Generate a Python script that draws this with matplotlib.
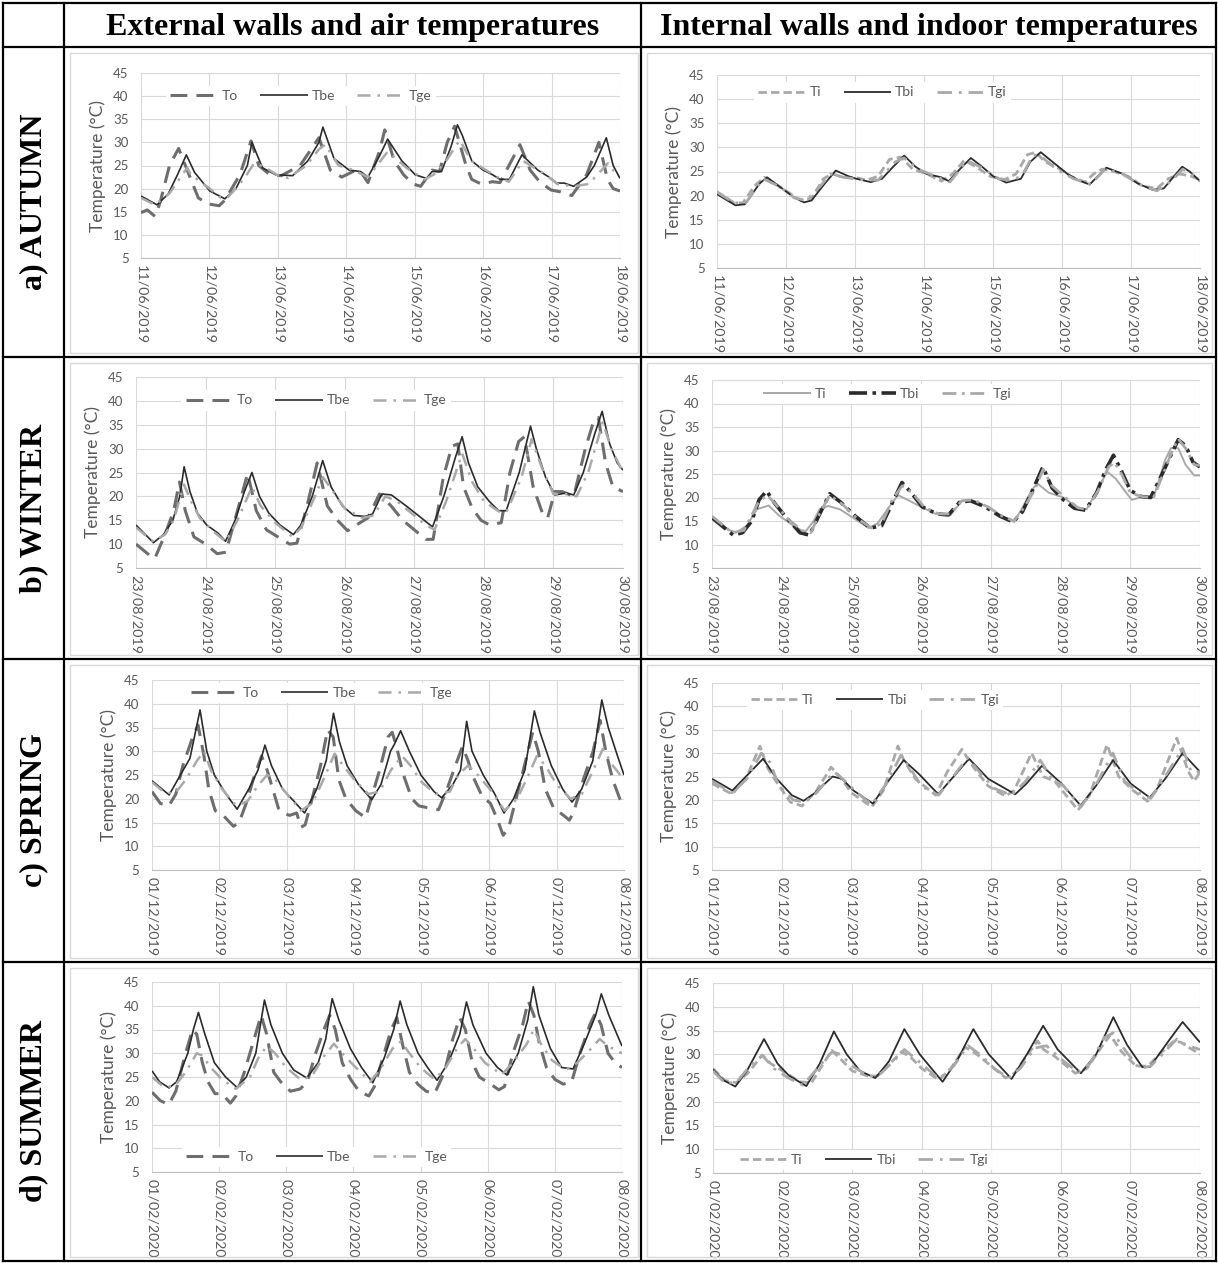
import matplotlib.pyplot as plt
import pandas as pd
from matplotlib.lines import Line2D
from matplotlib.patches import Rectangle

plt.rcParams['font.family'] = ['Lato', 'DejaVu Sans']

# ---------------- data: (hour from start, temperature in degC) ----------------
start_dates = ['2019-06-11', '2019-08-23', '2019-12-01', '2020-02-01']
row_labels = ['a) AUTUMN', 'b) WINTER', 'c) SPRING', 'd) SUMMER']
col_titles = ['External walls and air temperatures', 'Internal walls and indoor temperatures']
ext_names = ['To', 'Tbe', 'Tge']
int_names = ['Ti', 'Tbi', 'Tgi']

# autumn - external
aut_To = [(0, 14.8), (2.2, 15.4), (4.9, 14), (6.7, 17), (10, 25), (13.2, 28.7), (17.5, 22), (20.1, 18),
          (23.4, 16.7), (27.4, 16.3), (29.4, 17.5), (34.7, 23), (38.6, 30.3), (41.3, 25), (45.2, 23),
          (49.2, 22.8), (55.8, 25), (59.1, 28), (62.4, 31), (66.4, 24), (70.4, 22.5), (74.4, 23.7),
          (77, 23.7), (79.6, 21.3), (83.6, 28), (85.5, 32.7), (88.8, 26), (92.1, 23), (95.4, 21),
          (98.1, 20.5), (102.1, 24), (104.7, 23.7), (107.4, 30), (110, 33.5), (114, 25), (116, 22),
          (119.3, 21), (123.3, 21.5), (125.9, 21.3), (132.9, 29.5), (136.5, 24), (139.8, 21.5),
          (143.8, 19.7), (147.1, 19.3), (151.1, 18.5), (156.3, 23), (160.6, 30), (163.6, 22),
          (165.6, 20), (168, 19.5)]
aut_Tbe = [(0, 18.4), (5.6, 16.5), (9.5, 18.8), (12.8, 23), (15.9, 27.3), (18.8, 23.5), (24.1, 19.5),
           (29.4, 17.8), (33.3, 20), (37.3, 25), (38.9, 30), (42.6, 24.5), (47.2, 23), (53.2, 22.8),
           (58.5, 26), (62.4, 30), (63.8, 33.3), (67.7, 26.5), (73, 24), (77, 23.7), (79.6, 22.5),
           (83.6, 27), (86.5, 30.7), (91.5, 26), (96.2, 23), (100.1, 22.2), (102.1, 23.7),
           (105.4, 23.7), (108.7, 29), (111, 33.8), (112.7, 31.5), (116, 26), (120, 24), (123.3, 23),
           (125.9, 22), (129.2, 22), (133.6, 27.3), (139.2, 24), (143.1, 22.5), (145.8, 21.2),
           (148.4, 21.2), (151.7, 20.5), (156.3, 22.5), (159, 25), (163.2, 31), (165.6, 25), (168, 22.2)]
aut_Tge = [(0, 18), (4.9, 16.5), (10, 19), (16.2, 24.5), (17.5, 23), (24.1, 20), (28, 18), (30, 17.8),
           (36, 22), (39.7, 25.5), (43, 24.8), (47.6, 23), (51.6, 22.3), (58, 25), (62.4, 28.5),
           (64.6, 29.5), (69.3, 25), (74.6, 24), (79.6, 22.5), (86.5, 28), (93.1, 24.5), (99.5, 22),
           (103.4, 23.3), (107, 26), (111.8, 30.5), (115.8, 26), (121, 24), (125, 22.5), (129, 21.5),
           (134, 26), (142, 23), (146, 21), (151.7, 20.5), (157, 21), (163.8, 25.5), (165.6, 24), (168, 23)]
# autumn - internal
aut_Ti = [(0, 20.8), (6, 18.5), (9, 18.5), (13, 22), (16.5, 23.8), (20, 22.5), (24, 21), (29, 19),
          (33, 19.5), (37, 23.5), (40, 24.5), (44, 23.8), (48, 23.8), (52, 23.2), (56, 24), (60, 27.5),
          (64, 28), (68, 25.5), (73, 24.5), (78, 23), (82, 24.5), (86, 27.3), (90, 26), (95, 24),
          (100, 23.3), (104, 24.5), (108, 28.5), (111, 29), (114, 27), (118, 26), (123, 24), (128, 22.8),
          (131, 24.5), (134, 25.5), (138, 25), (143, 24), (148, 22), (153, 21.5), (157, 23.5),
          (161, 24.5), (165, 24), (168, 23.3)]
aut_Tbi = [(0, 20.3), (6.4, 18), (9.7, 18.2), (14.8, 22.5), (17.4, 23.8), (22.6, 21.5), (26.4, 19.8),
           (30.3, 18.6), (32.9, 19), (36.8, 22), (41.3, 25.2), (45.8, 24), (48.4, 23.5), (53.5, 22.8),
           (57.4, 23.5), (61.3, 26), (65.1, 28.3), (69, 26), (72.9, 24.5), (78, 23.8), (80.6, 23),
           (84.5, 25.5), (88.3, 27.8), (92.2, 26), (96.1, 24), (100.6, 22.7), (105.7, 23.5), (109, 27),
           (112.6, 29), (116.7, 27), (121.9, 24.5), (125.7, 23.2), (129.6, 22.3), (135.4, 25.8),
           (141.2, 24.5), (146.4, 22.5), (151.5, 21.2), (155.4, 21.5), (161.8, 26), (164.4, 25), (168, 23)]
aut_Tgi = [(0, 20.7), (6, 18.5), (10, 18.5), (16, 23.5), (22, 21.8), (27, 19.5), (31, 19), (36, 22),
           (39.5, 24.5), (44, 23.8), (50, 23.3), (56, 23.2), (62, 27), (65, 27.8), (70, 25.5), (76, 24),
           (81, 22.8), (87, 27.3), (92, 25.8), (98, 23.5), (102, 23.2), (106, 24), (110, 28.5), (113, 28),
           (118, 25.5), (124, 23.5), (130, 22.3), (135, 25.5), (141, 24.5), (147, 22.3), (153, 21),
           (158, 23), (162, 25.5), (166, 24), (168, 23)]

# winter - external
win_To = [(0, 10), (5, 7.5), (6.5, 7), (10, 12), (13, 17), (15, 23), (17, 17), (20, 11.5), (24, 10),
          (28, 8), (31, 8.3), (35, 17), (38.5, 24.8), (41.5, 17), (45, 13), (49, 11.5), (53, 10),
          (55.5, 10.2), (59, 18), (62.5, 27), (66, 18), (69.5, 15), (73, 12.8), (76, 14), (80, 15.5),
          (84, 20.5), (88, 18), (92, 15), (96, 13), (100, 11), (102.5, 11), (106, 24), (109, 30.5),
          (111, 31), (113, 22), (116, 17.5), (119, 15), (122, 14), (126, 14.5), (129, 25), (132, 31.5),
          (134, 32.5), (137, 22), (140.5, 16), (142, 15.5), (144.5, 21), (147, 21), (151, 20),
          (155, 30), (158, 36), (159.5, 36.5), (162, 27), (164.5, 22), (168, 21)]
win_Tbe = [(0, 14), (6, 10.3), (9.5, 12), (12.7, 15), (15.1, 20), (16.6, 26.2), (18.6, 21), (21.2, 16.5),
           (24.4, 14), (28.3, 12.3), (30.9, 10.6), (34.2, 15), (37.4, 21), (40, 25), (42.6, 20),
           (45.8, 16.5), (49.7, 14), (54.3, 12), (56.9, 14), (60.8, 20), (64.4, 27.5), (67.3, 22),
           (71.2, 18), (75.1, 16), (79, 15.8), (81.6, 16.3), (84.8, 20.5), (88.1, 20.3), (93.2, 18),
           (98.4, 15.5), (102.3, 13.6), (106.2, 20), (110.1, 28), (112.5, 32.5), (114.7, 27), (117.9, 22),
           (121.8, 19), (125.1, 17), (127.7, 17), (132.2, 25), (136.1, 34.7), (138.1, 30), (141.3, 24),
           (144.5, 20.3), (148.4, 20.7), (151, 20.3), (154.3, 25), (158.2, 33), (160.8, 37.8),
           (163.4, 31), (166, 27), (168, 25.5)]
win_Tge = [(0, 13.5), (6, 10.5), (10, 12), (13, 15), (16.5, 22.5), (19, 19), (22, 15.5), (27, 12.5),
           (31, 10.5), (35, 15), (40, 22), (43, 18), (48, 14.5), (54, 11.5), (57, 13.5), (61, 19),
           (64.5, 24), (68, 21), (72, 17.5), (78, 15.5), (82, 16), (86, 20), (90, 19), (95, 16.5),
           (100, 14), (103, 13), (107, 19), (112.5, 29), (116, 23), (120, 19), (126, 16.5), (128, 17),
           (133, 24), (136.5, 32), (140, 26), (144, 20.5), (148, 20.5), (152, 20), (156, 25),
           (161, 35.5), (164, 30), (168, 25)]
# winter - internal
win_Ti = [(0, 16), (6, 13), (8.5, 12.6), (12, 14), (15.5, 17.5), (19.5, 18.3), (23, 16.2), (28, 14),
          (32, 12.6), (35, 15), (37, 17.5), (40, 18.2), (44, 17.5), (49, 15.5), (54, 13.5), (57, 14.5),
          (61, 18), (64, 20.5), (68, 19.3), (72, 18), (77, 16.5), (82, 16.2), (86, 19.3), (90, 19.3),
          (95, 18), (100, 16), (104, 14.8), (107, 18), (110, 21.5), (112, 23), (116, 21), (121, 20),
          (126, 17.8), (129, 17.5), (133, 22), (136, 25.5), (139, 24), (142, 21.5), (144.5, 19.5),
          (149, 20.3), (152, 20), (156, 28), (158, 30.5), (160.5, 30.5), (163, 27), (166, 24.7), (168, 24.7)]
win_Tbi = [(0, 15.7), (7.3, 12), (10.5, 12.5), (13.7, 15), (16.2, 19.5), (18.8, 21.4), (21.3, 19),
           (25.2, 16), (30.3, 12.5), (33.5, 12), (36.7, 16), (40.5, 20.8), (44.3, 19), (49.4, 16),
           (54.5, 13.5), (58.4, 14), (62.2, 19), (65.4, 23.2), (68.6, 21), (72.4, 18), (77.5, 16.5),
           (81.4, 16.3), (85.2, 19), (89, 19.3), (94.1, 18), (99.2, 16), (103.7, 14.8), (106.9, 17),
           (110.7, 22), (113.9, 26.5), (117.1, 22), (121, 19.5), (124.8, 17.7), (128.6, 17.3),
           (132.4, 21), (135.6, 26), (138.2, 29), (140.7, 26), (144, 21.5), (147.8, 20.2), (151, 20),
           (154.2, 24), (158, 29), (160.5, 32.3), (163.1, 31), (165.6, 27.5), (168, 26.5)]
win_Tgi = [(0, 16), (7, 12.5), (11, 13), (16, 19), (19, 20.5), (22, 18.5), (26, 15.5), (31, 13),
           (34, 12.5), (37, 16.5), (40.5, 20.5), (45, 18.5), (50, 15.5), (55, 13.5), (58.5, 14.5),
           (62, 19.5), (65.5, 22.5), (69, 21), (73, 18), (78, 16.5), (82, 16.5), (86, 19.3), (90, 19.5),
           (95, 18), (100, 16), (104, 15), (107, 17.5), (111, 21.5), (114, 26), (117, 22.5), (122, 19.8),
           (126, 17.8), (129, 17.5), (133, 21.5), (136.5, 26.5), (138.5, 27.5), (141, 25), (144, 21),
           (148, 20.2), (152, 20), (155, 24.5), (158.5, 30), (160.5, 32.5), (163, 30.5), (166, 27),
           (168, 26.8)]

# spring - external
spr_To = [(0, 21.5), (3, 19), (6, 18.5), (8.5, 21), (11, 27), (14.5, 33), (16.4, 35.5), (18.5, 29),
          (20.2, 22), (22.5, 17.5), (25, 16.7), (29, 14.2), (31, 15), (33.5, 19), (36, 24), (39, 29),
          (41, 26), (42.5, 23), (45, 18), (46.5, 17), (49, 16.5), (51.5, 17), (53, 14), (54.5, 14.5),
          (57, 20), (60, 27), (62.5, 34.5), (64.5, 33), (66.5, 24), (69, 20), (72.5, 17.5), (76, 16),
          (78, 20), (81, 26), (84, 33), (85.5, 34), (87, 31), (89.5, 25), (92.5, 20), (95, 18.5),
          (99, 18), (102, 17.7), (105, 22), (108, 27), (110.5, 31), (112.5, 28), (114, 25), (117.5, 20.5),
          (120.5, 19), (123, 15.5), (125, 12.3), (127, 14), (130, 21), (133, 28), (135.5, 34),
          (137.5, 30), (140, 22), (143, 18), (146.5, 16.5), (148.5, 15.5), (150, 17), (153.5, 24),
          (157, 30), (159.5, 36.5), (161.5, 30), (164, 24), (166.5, 20), (168, 18.3)]
spr_Tbe = [(0, 23.8), (6.1, 20.8), (10.1, 25), (13.5, 28.5), (17.1, 38.7), (19.5, 30), (22.2, 25),
           (26.3, 21), (30.3, 17.8), (34.4, 22), (37.7, 26), (40.2, 31.3), (42.5, 27), (46.5, 22),
           (50.5, 19.5), (54.3, 17), (58.6, 22), (62, 28), (64.6, 38), (66.7, 32), (69.4, 27), (73.5, 23),
           (78.2, 19.8), (81.5, 23), (84.9, 30), (86.3, 31.5), (88.5, 34.3), (91.6, 30), (95.7, 25),
           (100.4, 21.5), (103.1, 20.2), (107.1, 23), (109.8, 26), (112, 36.3), (113.9, 30), (117.9, 25),
           (122, 21), (125.3, 17), (128.7, 20), (132.7, 26), (136.1, 38.5), (138.1, 34), (142.1, 27),
           (146.2, 22), (149.5, 19.3), (152.9, 22), (156.9, 28), (160.1, 40.8), (162.4, 35),
           (165.7, 29), (168, 25)]
spr_Tge = [(0, 23.5), (4, 21.5), (8, 21), (12, 24), (16, 28), (18.5, 30), (21, 26), (25, 22), (30, 18.5),
           (34, 19.5), (38, 23), (41, 25), (44, 24), (48, 21), (53, 17.5), (57, 19), (61, 24), (65, 29.5),
           (68, 27), (72, 24), (77, 21), (81, 21.5), (85, 26), (89, 29), (92, 27), (96, 23.5), (101, 21),
           (106, 21.5), (109, 25), (112.5, 27), (116, 25), (121, 21.5), (125.5, 17.5), (130, 20),
           (134, 25), (137, 29), (140, 27), (144, 23), (149, 20), (153, 21), (157, 26), (160.5, 30.5),
           (164, 27), (168, 24)]
# spring - internal
spr_Ti = [(0, 23.5), (7, 21.2), (12, 25), (16.5, 31.5), (19, 27), (22, 24), (27, 19.5), (31, 18.7),
          (36, 22), (41, 27), (44, 25), (48, 21.5), (55, 18.5), (59, 22), (64, 31.5), (66, 28.5),
          (70, 24.5), (77, 21), (81, 26), (86, 30.8), (90, 27), (95, 23), (101, 20.8), (104, 22),
          (110, 30), (114, 25), (118, 24), (126, 17.8), (130, 21), (136, 31.8), (140, 25), (145, 22),
          (150, 19.7), (153, 22), (160, 33.2), (164, 26), (166, 24), (168, 26)]
spr_Tbi = [(0, 24.5), (7, 22), (11.7, 25), (17.6, 28.8), (22.3, 24.5), (27.5, 21), (31.5, 19.8),
           (35.5, 21.5), (41.5, 25), (44.8, 24.5), (48.7, 22), (55.4, 19.2), (60.7, 24), (66, 28.5),
           (71.3, 25.5), (77.9, 21.2), (83.2, 25), (88.5, 28.8), (95.1, 24.5), (104.4, 21.2),
           (108.3, 23.5), (113.6, 27.3), (120.3, 23.5), (126.9, 18.8), (132.2, 23), (138.1, 28.5),
           (144.1, 23.5), (150.7, 20.5), (156, 24.5), (162, 30), (168, 26)]
spr_Tgi = [(0, 24), (7, 21.5), (12, 24.5), (17, 30), (20, 28), (23, 23), (28, 20), (32, 19.5), (36, 21.5),
           (42, 26), (45, 24.5), (50, 21.5), (55, 19), (60, 23.5), (65, 29.5), (68, 27), (72, 23), (78, 21),
           (83, 25), (88, 29), (92, 26), (97, 22.5), (103, 21), (108, 24), (113, 28.5), (117, 24.5),
           (121, 23), (127, 18.5), (132, 23), (138, 30), (142, 24), (147, 21.5), (151, 20.3), (156, 25),
           (162, 31), (165, 26), (168, 26)]

# summer - external
sum_To = [(0, 21.8), (3, 20), (6, 19.2), (8.5, 22), (12, 30), (14.5, 35), (16, 34), (18, 28), (20, 24),
          (22.5, 21.5), (25, 21.5), (28, 19.5), (30, 21), (33, 26), (36.5, 33), (39, 38), (41, 34),
          (43.5, 26), (46, 24), (49.5, 22), (53, 22.5), (55.5, 24), (58.5, 30), (61.5, 35), (63.5, 38),
          (65.5, 35), (68, 28), (71, 24.5), (74, 22), (77.5, 21), (79.5, 23), (82.5, 29), (85.5, 35),
          (87.5, 37.5), (89.5, 32), (92, 26), (95, 23.5), (98, 22), (101, 21.5), (104.5, 26), (107.5, 33),
          (110, 37.5), (112, 35), (114.5, 28), (117, 25), (121, 23.5), (124, 22.3), (126, 23), (129, 30),
          (132.5, 36), (134.5, 41), (136.5, 38), (138.5, 32), (141, 27), (144, 24.5), (147, 23.5),
          (150, 24), (153, 30), (156.5, 36), (158.5, 38.5), (160.5, 36), (163, 30), (165.5, 28), (168, 27)]
sum_Tbe = [(0, 26.3), (2.7, 24), (6.1, 22.7), (8.8, 24), (12.8, 30), (14.8, 35), (16.6, 38.6), (18.9, 34),
           (22.3, 28), (26.3, 25), (30.4, 22.8), (33.7, 25), (37.1, 30), (40.2, 41.2), (42.5, 36),
           (46.6, 30), (50.6, 26.5), (55.3, 24.8), (59.4, 28), (62.1, 33), (64.4, 41.5), (66.8, 37),
           (70.9, 31), (74.9, 27), (78.9, 23.8), (83, 29), (86.4, 35), (88.7, 41), (91.1, 36), (95.1, 30),
           (98.5, 27), (101.9, 24.3), (105.9, 28), (110, 34), (112.4, 40.8), (114.7, 36), (119.4, 30),
           (123.5, 27), (126.9, 25.4), (130.9, 30), (134.3, 37), (136.3, 44), (138.3, 38), (142.4, 31),
           (146.4, 27), (150.5, 26.7), (154.5, 32), (158.6, 38), (160.6, 42.5), (163.3, 38), (168, 31.5)]
sum_Tge = [(0, 25), (4, 23), (8, 23), (12, 26), (16, 30), (18, 29.5), (21, 27), (25, 24.5), (30, 22.5),
           (35, 25), (38, 29), (41, 31.5), (44, 30), (48, 27), (53, 24.5), (57, 25), (61, 29), (65, 32),
           (68, 30), (72, 27.5), (78, 24), (82, 27), (86, 31), (89, 32.5), (92, 30), (96, 27), (101, 24.5),
           (105, 27), (109, 31), (112, 33), (115, 31), (119, 28), (125, 25.5), (129, 28), (134, 32),
           (136.5, 35), (139, 32), (143, 28.5), (148, 26.5), (152, 28), (157, 31), (160, 33), (163, 31.5),
           (168, 30)]
# summer - internal
sum_Ti = [(0, 27), (4, 24.5), (8, 24), (12, 26), (17, 29.8), (20, 28), (24, 26.5), (30, 24.2), (34, 24),
          (38, 28), (41, 30.8), (44, 29), (48, 26.5), (54, 25.3), (57, 25.5), (61, 28), (65, 30.5),
          (68, 29.5), (72, 27), (78, 24.6), (82, 27), (87, 31.5), (91, 30), (95, 28), (101, 25), (104, 26),
          (108, 29.5), (112, 32.8), (114, 31), (118, 29.5), (125, 26), (129, 27), (134, 31.5), (137, 34),
          (141, 30.5), (146, 27.5), (150, 27.5), (154, 30), (159, 32.8), (161.5, 32.5), (164, 31.5),
          (168, 30)]
sum_Tbi = [(0, 26.8), (3.7, 24.5), (7.7, 23.2), (11.7, 26.5), (17.6, 33.2), (22.3, 28), (26.2, 25.5),
           (32.2, 23.3), (36.8, 28), (41.7, 34.8), (46.1, 30), (50.7, 26.5), (56, 25), (60.7, 28.5),
           (66, 35.3), (71.3, 30), (79.2, 24.2), (84.5, 29), (89.8, 35.3), (95.1, 30), (103, 24.8),
           (108.3, 30), (113.9, 36), (118.9, 31), (126.9, 26), (132.2, 30), (138.1, 37.8), (142.8, 32),
           (148.1, 27.3), (150.7, 27.3), (157.4, 33), (162, 36.8), (168, 32.5)]
sum_Tgi = [(0, 26.5), (4, 24), (8, 24), (12, 27), (17, 29.8), (21, 27), (26, 25), (31, 23.5), (36, 27),
           (41, 30.5), (44, 30), (48, 27.5), (54, 25.3), (58, 26), (63, 29), (66, 31), (70, 29), (78, 24.8),
           (83, 27.5), (88, 31.8), (92, 30), (97, 27), (102, 25), (106, 27), (111, 31.3), (115, 31.8),
           (120, 29), (126, 26.2), (130, 28), (135, 33.5), (138, 34.5), (142, 31), (147, 27), (151, 27.5),
           (155, 30), (160, 33.2), (163, 32), (168, 31)]

ext_data = [[aut_To, aut_Tbe, aut_Tge], [win_To, win_Tbe, win_Tge],
            [spr_To, spr_Tbe, spr_Tge], [sum_To, sum_Tbe, sum_Tge]]
int_data = [[aut_Ti, aut_Tbi, aut_Tgi], [win_Ti, win_Tbi, win_Tgi],
            [spr_Ti, spr_Tbi, spr_Tgi], [sum_Ti, sum_Tbi, sum_Tgi]]

# ---------------- styles ----------------
DARK, MID, LIGHT = '#2b2b2b', '#6e6e6e', '#a9a9a9'
TXT, GRID = '#595959', '#d9d9d9'
sty_To = dict(color=MID, lw=2.2, dashes=(5.5, 3.0))
sty_Tbe = dict(color=DARK, lw=1.2)
sty_Tge = dict(color=LIGHT, lw=1.8, dashes=(5.2, 2.8, 1, 2.8))
sty_Ti = dict(color=LIGHT, lw=2.0, dashes=(3, 1.5))
sty_Tbi = dict(color=DARK, lw=1.3)
sty_Tgi = dict(color=LIGHT, lw=2.0, dashes=(5.2, 2.5, 1, 2.5))
# the winter internal chart uses other line styles
win_int_styles = [dict(color=LIGHT, lw=1.4), dict(color=DARK, lw=2.6, dashes=(5, 1.5, 1, 1.5)),
                  dict(color=LIGHT, lw=2.0, dashes=(5, 2, 1, 2))]

W, H = 1218, 1263
fig = plt.figure(figsize=(W / 100, H / 100), dpi=100)


def frac(x0, y0, x1, y1):
    return [x0 / W, 1 - y1 / H, (x1 - x0) / W, (y1 - y0) / H]


axes_px = [[(141, 73, 620, 258), (717, 75, 1200, 268)],
           [(136, 377, 623, 568), (712, 380, 1200, 568)],
           [(152, 680, 624, 870), (712, 683, 1200, 870)],
           [(152, 982, 622, 1172), (713, 983, 1200, 1173)]]
legend_pos = [[(0.334, 0.875), (0.343, 0.91)],
              [(0.37, 0.877), (0.36, 0.925)],
              [(0.36, 0.93), (0.334, 0.91)],
              [(0.35, 0.08), (0.31, 0.07)]]
rows_y = [3, 47, 357, 659, 962, 1261]
cols_x = [3, 64, 641, 1216]


def draw_panel(ax, start, series, names, styles, leg_xy):
    t0 = pd.Timestamp(start)
    for pts, name, st in zip(series, names, styles):
        hrs = [p[0] for p in pts]
        vals = [p[1] for p in pts]
        x = (t0 + pd.to_timedelta(hrs, unit='h')).to_pydatetime()
        ax.plot(x, vals, label=name, solid_capstyle='butt', dash_capstyle='butt', **st)
    days = [t0 + pd.Timedelta(days=d) for d in range(8)]
    ax.set_xlim(days[0], days[-1])
    ax.set_xticks([d.to_pydatetime() for d in days])
    ax.set_xticklabels([d.strftime('%d/%m/%Y') for d in days], rotation=-90,
                       ha='center', va='top', fontsize=10.3, color=TXT)
    ax.set_ylim(5, 45)
    ax.set_yticks(range(5, 46, 5))
    ax.tick_params(axis='y', labelsize=9.5, labelcolor=TXT, pad=9)
    ax.tick_params(axis='x', pad=5)
    ax.tick_params(length=0)
    ax.grid(True, color=GRID, lw=0.8)
    ax.set_axisbelow(True)
    for s in ['top', 'right', 'left']:
        ax.spines[s].set_visible(False)
    ax.spines['bottom'].set_color('#bfbfbf')
    ax.set_ylabel('Temperature (°C)', fontsize=12.5, color=TXT, labelpad=5)
    leg = ax.legend(loc='center', bbox_to_anchor=leg_xy, ncol=3, frameon=True, fancybox=False,
                    fontsize=10, handlelength=3.4, handletextpad=0.3, columnspacing=1.6,
                    borderpad=0.3, labelcolor=TXT)
    leg.get_frame().set_edgecolor('none')
    leg.get_frame().set_facecolor('white')
    leg.get_frame().set_alpha(1)
    leg.set_zorder(5)


for r in range(4):
    for c in range(2):
        ax = fig.add_axes(frac(*axes_px[r][c]))
        if c == 0:
            draw_panel(ax, start_dates[r], ext_data[r], ext_names, [sty_To, sty_Tbe, sty_Tge], legend_pos[r][c])
        else:
            styles = win_int_styles if r == 1 else [sty_Ti, sty_Tbi, sty_Tgi]
            draw_panel(ax, start_dates[r], int_data[r], int_names, styles, legend_pos[r][c])
        # light chart-area border
        bx0 = 70 if c == 0 else 647
        bx1 = 638 if c == 0 else 1212
        fig.add_artist(Rectangle((bx0 / W, 1 - (rows_y[r + 2] - 4) / H), (bx1 - bx0) / W,
                                 (rows_y[r + 2] - rows_y[r + 1] - 10) / H, transform=fig.transFigure,
                                 fill=False, edgecolor=GRID, lw=1))

# table grid lines
for y in rows_y:
    fig.add_artist(Line2D([cols_x[0] / W, cols_x[-1] / W], [1 - y / H, 1 - y / H],
                          transform=fig.transFigure, color='black', lw=1.6))
for x in cols_x:
    fig.add_artist(Line2D([x / W, x / W], [1 - rows_y[0] / H, 1 - rows_y[-1] / H],
                          transform=fig.transFigure, color='black', lw=1.6))

# headers and row labels
for c in range(2):
    xc = (cols_x[c + 1] + cols_x[c + 2]) / 2
    fig.text(xc / W, 1 - 28 / H, col_titles[c], ha='center', va='center',
             fontsize=23, fontweight='bold', family='Liberation Serif')
for r in range(4):
    yc = (rows_y[r + 1] + rows_y[r + 2]) / 2
    fig.text(34 / W, 1 - yc / H, row_labels[r], ha='center', va='center', rotation=90,
             fontsize=23, fontweight='bold', family='Liberation Serif')

fig.savefig('out.png', dpi=100)
